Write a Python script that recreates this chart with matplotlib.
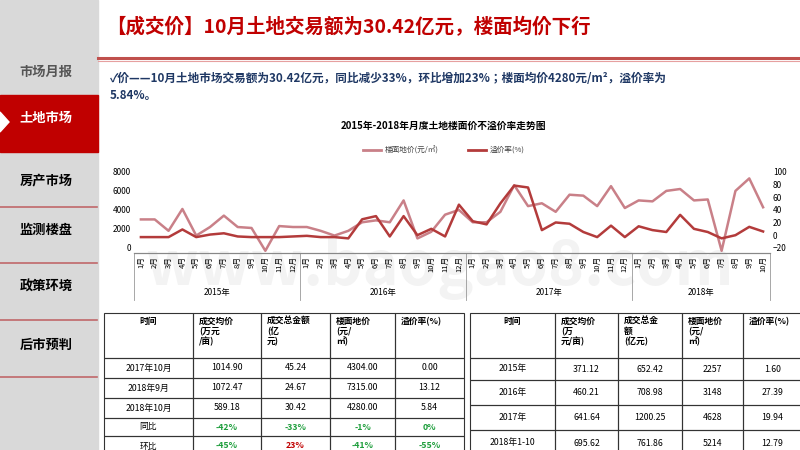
import matplotlib
matplotlib.use('Agg')
import matplotlib.pyplot as plt
from matplotlib import font_manager
from matplotlib.patches import Rectangle, Polygon

cjk = [f.name for f in font_manager.fontManager.ttflist if 'CJK' in f.name]
cjk_pref = [n for n in ['Noto Sans CJK SC', 'Noto Sans CJK JP'] if n in cjk] or cjk[:1]
plt.rcParams['font.family'] = cjk_pref + ['DejaVu Sans']

# ── data ──────────────────────────────────────────────────────────────
YEARS = ['2015年', '2016年', '2017年', '2018年']
MONTHS_PER_YEAR = [12, 12, 12, 10]
FLOOR_PRICE = [3000, 3000, 1800, 4100, 1300, 2200, 3400, 2200, 2100, -300, 2300, 2200,
               2200, 1800, 1300, 1800, 2700, 2900, 2700, 5000, 1000, 1700, 3500, 4000,
               2700, 2700, 3800, 6600, 4400, 4700, 3800, 5600, 5500, 4400, 6500, 4200,
               5000, 4900, 6000, 6200, 5000, 5100, -300, 6000, 7315, 4280]
PREMIUM = [-3, -3, -3, 9, -3, 1, 3, -2, -3, -3, -3, -2,
           -1, -3, -3, -5, 25, 30, -2, 30, 0, 10, -2, 48,
           22, 17, 50, 78, 75, 8, 20, 18, 5, -3, 15, -3,
           14, 8, 5, 32, 10, 5, -5, 0, 13.12, 5.84]

MENU = ['市场月报', '土地市场', '房产市场', '监测楼盘', '政策环境', '后市预判']

LEFT_HEADER = ['时间', '成交均价\n(万元\n/亩)', '成交总金额\n(亿\n元)', '楼面地价\n(元/\n㎡)', '溢价率(%)']
LEFT_ROWS = [['2017年10月', '1014.90', '45.24', '4304.00', '0.00'],
             ['2018年9月', '1072.47', '24.67', '7315.00', '13.12'],
             ['2018年10月', '589.18', '30.42', '4280.00', '5.84'],
             ['同比', '-42%', '-33%', '-1%', '0%'],
             ['环比', '-45%', '23%', '-41%', '-55%']]
RIGHT_HEADER = ['时间', '成交均价\n(万\n元/亩)', '成交总金\n额\n(亿元)', '楼面地价\n(元/\n㎡)', '溢价率(%)']
RIGHT_ROWS = [['2015年', '371.12', '652.42', '2257', '1.60'],
              ['2016年', '460.21', '708.98', '3148', '27.39'],
              ['2017年', '641.64', '1200.25', '4628', '19.94'],
              ['2018年1-10', '695.62', '761.86', '5214', '12.79']]

PRICE_C = '#c98088'
PREM_C = '#b33b3b'
RED = '#c00000'
NAVY = '#1f3864'

fig = plt.figure(figsize=(8, 4.5), dpi=100)
bg = fig.add_axes([0, 0, 1, 1])
bg.set_xlim(0, 800)
bg.set_ylim(450, 0)
bg.axis('off')

# ── sidebar ───────────────────────────────────────────────────────────
bg.add_patch(Rectangle((0, 0), 98, 450, color='#d9d9d9', zorder=0))
bg.add_patch(Rectangle((0, 95), 98, 57, color=RED, zorder=1))
bg.add_patch(Polygon([[0, 112], [9, 122], [0, 132]], color='white', zorder=2))
for y in [207, 263, 320, 377]:
    bg.plot([0, 97], [y, y], color='#c0686a', lw=1.2)
menu_y = [72, 118, 180, 230, 287, 345]
for name, y in zip(MENU, menu_y):
    col = 'white' if name == '土地市场' else ('#555555' if name == '市场月报' else 'black')
    bg.text(46, y, name, ha='center', va='center', fontsize=9.5, fontweight='bold', color=col)

# ── header ────────────────────────────────────────────────────────────
bg.text(106, 27, '【成交价】10月土地交易额为30.42亿元，楼面均价下行', ha='left', va='center',
        fontsize=14, fontweight='bold', color=RED)
bg.plot([98, 800], [58, 58], color='#c0504d', lw=2.2)
bg.plot([98, 800], [61, 61], color='#e6a0a0', lw=0.8)
bg.text(110, 78, '✓价——10月土地市场交易额为30.42亿元，同比减少33%，环比增加23%；楼面均价4280元/m²，溢价率为',
        ha='left', va='center', fontsize=8.4, fontweight='bold', color=NAVY)
bg.text(110, 96, '5.84%。', ha='left', va='center', fontsize=8.4, fontweight='bold', color=NAVY)

# watermark
bg.text(440, 268, 'www.baogao8.com', ha='center', va='center', fontsize=44,
        color='#f3f3f3', fontweight='bold', zorder=0)

# chart title + legend
bg.text(443, 126, '2015年-2018年月度土地楼面价不溢价率走势图', ha='center', va='center',
        fontsize=7, fontweight='bold')
bg.plot([363, 381], [150, 150], color=PRICE_C, lw=2)
bg.text(385, 150, '楼面地价(元/㎡)', ha='left', va='center', fontsize=5.5, color='#444444')
bg.plot([468, 486], [150, 150], color=PREM_C, lw=2)
bg.text(490, 150, '溢价率(%)', ha='left', va='center', fontsize=5.5, color='#444444')

# ── chart ─────────────────────────────────────────────────────────────
x0, x1, ytop, ybot = 134, 770, 170, 253
ax = fig.add_axes([x0 / 800, 1 - ybot / 450, (x1 - x0) / 800, (ybot - ytop) / 450])
ax.patch.set_alpha(0)
n = len(FLOOR_PRICE)
xs = list(range(n))
ax.plot(xs, FLOOR_PRICE, color=PRICE_C, lw=1.8)
ax.set_xlim(-0.5, n - 0.5)
ax.set_ylim(-533, 8200)
ax.set_yticks([0, 2000, 4000, 6000, 8000])
ax.set_yticklabels(['0', '2000', '4000', '6000', '8000'])
ax2 = ax.twinx()
ax2.plot(xs, PREMIUM, color=PREM_C, lw=1.8)
ax2.set_ylim(-28, 102.5)
ax2.set_yticks([-20, 0, 20, 40, 60, 80, 100])
for a in (ax, ax2):
    for s in ['top', 'left', 'right']:
        a.spines[s].set_visible(False)
    a.spines['bottom'].set_color('#888888')
    a.tick_params(axis='y', length=0, labelsize=6, pad=2)
ax.set_xticks(xs)
ax.set_xticklabels([f'{m}月' for c in MONTHS_PER_YEAR for m in range(1, c + 1)],
                   rotation=90, fontsize=5.5)
ax.tick_params(axis='x', length=0, pad=2)

# year group labels and separators
start = 0
for yr, cnt in zip(YEARS, MONTHS_PER_YEAR):
    xa = x0 + start / n * (x1 - x0)
    xb = x0 + (start + cnt) / n * (x1 - x0)
    bg.plot([xa, xa], [253, 300], color='#999999', lw=0.6)
    bg.text((xa + xb) / 2, 292, yr, ha='center', va='center', fontsize=6)
    start += cnt
bg.plot([x1, x1], [253, 300], color='#999999', lw=0.6)


# ── tables ────────────────────────────────────────────────────────────
def draw_table(xcols, yrows, header, rows, colors=None):
    for r, (ya, yb) in enumerate(zip(yrows[:-1], yrows[1:])):
        cells = header if r == 0 else rows[r - 1]
        for c, (xa, xb) in enumerate(zip(xcols[:-1], xcols[1:])):
            bg.add_patch(Rectangle((xa, ya), xb - xa, yb - ya, fill=False, ec='#333333', lw=0.8))
            txt = cells[c]
            col = 'black'
            if colors and r > 0 and colors[r - 1][c]:
                col = colors[r - 1][c]
            if r == 0:
                ha, xt = ('center', (xa + xb) / 2) if c == 0 else ('left', xa + 6)
                bg.text(xt, ya + 4, txt, ha=ha, va='top', fontsize=6.3, fontweight='bold',
                        linespacing=1.1)
            else:
                bg.text((xa + xb) / 2, (ya + yb) / 2, txt, ha='center', va='center', fontsize=6.3,
                        color=col, fontweight='bold' if col != 'black' else 'normal')


G, R = '#1e9e3c', '#c00000'
left_colors = [[None] * 5, [None] * 5, [None] * 5, [None, G, G, G, G], [None, G, R, G, G]]
draw_table([104, 193, 261, 330, 395, 464], [313, 358, 378, 398, 418, 436, 456],
           LEFT_HEADER, LEFT_ROWS, left_colors)
draw_table([470, 555, 618, 682, 743, 802], [313, 358, 380, 405, 430, 456],
           RIGHT_HEADER, RIGHT_ROWS)

fig.savefig('out.png', dpi=100)
